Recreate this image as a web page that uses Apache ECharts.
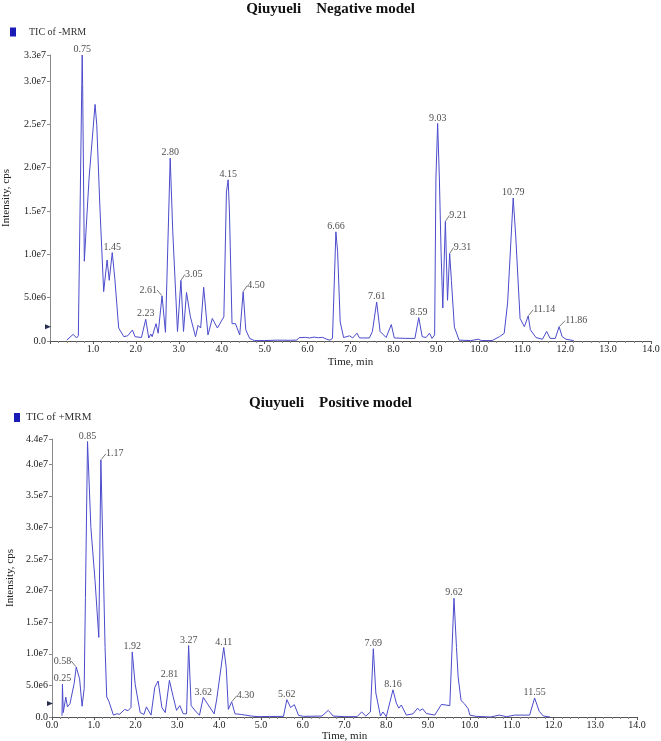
<!DOCTYPE html>
<html>
<head>
<meta charset="utf-8">
<title>Qiuyueli TIC</title>
<script src="https://cdn.jsdelivr.net/npm/echarts@6/dist/echarts.min.js"></script>
<style>
  html, body { margin: 0; padding: 0; background: #fff; }
  #chart { width: 661px; height: 741px; }
</style>
</head>
<body>
<div id="chart"></div>
<script>
// TIC traces: time in min, intensity in units of 1e6 cps
const negTime = [0.39, 0.54, 0.62, 0.66, 0.75, 0.76, 0.80, 0.83, 0.91, 1.05, 1.09, 1.16, 1.25, 1.33, 1.38, 1.45, 1.51, 1.60, 1.72, 1.81,
  1.92, 1.98, 2.13, 2.23, 2.30, 2.35, 2.38, 2.47, 2.52, 2.61, 2.69, 2.80, 2.86, 2.97, 3.05, 3.11, 3.18, 3.27, 3.39, 3.45,
  3.51, 3.58, 3.68, 3.78, 3.90, 4.05, 4.11, 4.15, 4.18, 4.24, 4.32, 4.42, 4.50, 4.56, 4.65, 4.76, 5.00, 5.30, 5.60, 5.75,
  5.80, 5.95, 6.05, 6.15, 6.25, 6.35, 6.45, 6.52, 6.58, 6.66, 6.70, 6.76, 6.84, 6.98, 7.05, 7.15, 7.21, 7.44, 7.51, 7.61,
  7.69, 7.83, 7.95, 8.02, 8.29, 8.50, 8.59, 8.67, 8.76, 8.84, 8.90, 8.96, 8.99, 9.03, 9.07, 9.11, 9.15, 9.21, 9.26, 9.31,
  9.35, 9.42, 9.53, 9.80, 9.98, 10.05, 10.30, 10.47, 10.58, 10.66, 10.79, 10.85, 10.95, 11.05, 11.14, 11.19, 11.32, 11.47, 11.57, 11.65,
  11.77, 11.86, 11.93, 12.02, 12.20];
const negIntensity = [0.1, 0.77, 0.35, 0.6, 33.0, 29.6, 9.2, 11.9, 18.8, 27.3, 24.9, 15.7, 5.7, 9.35, 7.0, 10.2, 7.2, 1.5, 0.5, 0.6,
  1.27, 0.5, 0.4, 2.5, 0.35, 0.8, 0.5, 2.0, 0.9, 5.2, 1.0, 21.1, 12.6, 1.1, 7.0, 1.1, 5.6, 2.8, 0.5, 1.8,
  1.5, 6.2, 0.7, 2.6, 1.5, 2.8, 17.2, 18.6, 14.9, 2.0, 2.0, 0.7, 5.7, 1.3, 0.3, 0.05, 0.05, 0.1, 0.08, 0.1,
  0.38, 0.42, 0.35, 0.45, 0.38, 0.42, 0.2, 0.1, 0.3, 12.6, 10.3, 2.2, 0.4, 0.6, 0.35, 0.9, 0.35, 0.35, 1.1, 4.5,
  1.1, 0.4, 1.9, 0.35, 0.3, 0.3, 2.7, 0.5, 0.4, 0.9, 0.3, 0.7, 18.8, 25.1, 18.8, 10.2, 3.8, 13.8, 4.7, 10.1,
  7.0, 1.6, 0.1, 0.05, 0.2, 0.05, 0.05, 0.5, 0.88, 4.4, 16.5, 12.0, 2.6, 1.65, 2.9, 1.3, 0.4, 0.2, 1.1, 0.3,
  0.3, 1.65, 0.5, 0.2, 0.05];
const negPeakTimes = [0.75, 1.45, 2.23, 2.61, 2.80, 3.05, 4.15, 4.50, 6.66, 7.61, 8.59, 9.03, 9.21, 9.31, 10.79, 11.14, 11.86];
const negPeakIntensity = [33.0, 10.2, 2.5, 5.2, 21.1, 7.0, 18.6, 5.7, 12.6, 4.5, 2.7, 25.1, 13.8, 10.1, 16.5, 2.9, 1.65];

const posTime = [0.24, 0.25, 0.27, 0.33, 0.37, 0.43, 0.47, 0.53, 0.58, 0.66, 0.72, 0.77, 0.80, 0.85, 0.93, 1.03, 1.12, 1.17, 1.20, 1.27,
  1.31, 1.36, 1.47, 1.55, 1.62, 1.74, 1.82, 1.89, 1.92, 1.99, 2.11, 2.20, 2.26, 2.37, 2.46, 2.54, 2.63, 2.71, 2.81, 2.90,
  2.98, 3.06, 3.14, 3.22, 3.27, 3.33, 3.45, 3.53, 3.62, 3.74, 3.88, 3.94, 3.98, 4.11, 4.17, 4.22, 4.30, 4.38, 4.53, 4.77,
  4.93, 5.20, 5.54, 5.56, 5.62, 5.71, 5.80, 5.90, 6.02, 6.46, 6.61, 6.73, 7.01, 7.30, 7.41, 7.51, 7.62, 7.69, 7.75, 7.86,
  7.92, 8.00, 8.16, 8.24, 8.30, 8.36, 8.48, 8.64, 8.75, 8.80, 8.87, 8.96, 9.16, 9.32, 9.52, 9.56, 9.62, 9.68, 9.72, 9.79,
  9.87, 9.96, 10.00, 10.15, 10.50, 10.70, 10.88, 11.07, 11.43, 11.55, 11.66, 11.76, 11.92];
const posIntensity = [0.2, 5.2, 0.7, 3.15, 1.6, 2.1, 1.9, 5.3, 7.9, 6.05, 1.7, 4.5, 18.9, 43.6, 30.0, 21.6, 12.6, 40.7, 32.0, 11.0,
  3.15, 2.5, 0.3, 0.5, 0.45, 1.2, 1.0, 1.5, 10.3, 5.2, 0.7, 0.4, 1.6, 0.3, 4.7, 5.7, 1.5, 0.7, 5.8, 3.2,
  1.05, 1.8, 0.5, 0.5, 11.3, 1.8, 0.8, 0.3, 3.1, 1.9, 0.5, 2.7, 2.6, 11.0, 7.8, 1.2, 2.4, 0.5, 0.4, 0.15,
  0.05, 0.08, 0.1, 0.2, 2.75, 1.5, 1.95, 0.25, 0.1, 0.15, 1.05, 0.15, 0.05, 0.05, 0.8, 0.15, 0.8, 10.8, 3.8, 0.15,
  0.8, 0.05, 4.3, 2.2, 1.4, 1.9, 0.3, 0.5, 1.4, 1.0, 1.3, 0.55, 0.3, 2.0, 1.8, 1.8, 18.8, 11.0, 6.3, 2.6,
  2.1, 1.3, 0.3, 0.1, 0.0, 0.3, 0.05, 0.3, 0.3, 3.0, 0.9, 0.15, 0.0];
const posPeakTimes = [0.25, 0.58, 0.85, 1.17, 1.92, 2.81, 3.27, 3.62, 4.11, 4.30, 5.62, 7.69, 8.16, 9.62, 11.55];
const posPeakIntensity = [5.2, 7.9, 43.6, 40.7, 10.3, 5.8, 11.3, 3.1, 11.0, 2.4, 2.75, 10.8, 4.3, 18.8, 3.0];

const negMax = 3.3e7;
const posMax = 4.4e7;
const UNIT = 1e6;

// labels sitting beside their peak with a short leader; value = px gap, sign = side
const leaderGaps = {
  neg: { '2.61': -5, '3.05': 4, '4.50': 4, '9.21': 4, '9.31': 4, '11.14': 5, '11.86': 6 },
  pos: { '0.58': -5, '1.17': 5, '4.30': 5 }
};

const FONT = 'Liberation Serif';
const lineColor = '#4b4bcc';

function sciLabel(v) {
  if (v === 0) return '0.0';
  return v.toExponential(1).replace('+', '');
}

function pairs(xs, ys) {
  return xs.map((x, i) => [x, ys[i] * UNIT]);
}

function peakItems(times, vals, gaps) {
  return times.map((t, i) => {
    const txt = t.toFixed(2);
    const item = { value: [t, vals[i] * UNIT], name: txt };
    if (gaps[txt] !== undefined) item.labelLine = { show: true };
    return item;
  });
}

// move leader labels to the side of the peak and draw a tiny guide
function leaderLayout(gaps) {
  return function (p) {
    const gap = gaps[p.text];
    if (gap === undefined) return {};
    const cx = p.rect.x + p.rect.width / 2;
    const cy = p.rect.y + p.rect.height / 2;
    const s = gap > 0 ? 1 : -1;
    return {
      x: cx + gap,
      y: cy - 6,
      align: gap > 0 ? 'left' : 'right',
      verticalAlign: 'middle',
      labelLinePoints: [[cx + s * 0.5, cy - 1], [cx + gap - s * 0.5, cy - 3.5], [cx + gap, cy - 3.5]]
    };
  };
}

function xAxisOf(gridIndex, showMin, gap) {
  return {
    type: 'value', gridIndex: gridIndex, min: 0, max: 14, interval: 1,
    name: 'Time, min', nameLocation: 'middle', nameGap: gap,
    nameTextStyle: { fontFamily: FONT, fontSize: 11, color: '#222' },
    axisLine: { onZero: false, lineStyle: { color: '#555', width: 1 } },
    axisTick: { show: true, length: 3, lineStyle: { color: '#555' } },
    minorTick: { show: true, splitNumber: 5, length: 2, lineStyle: { color: '#888' } },
    splitLine: { show: false },
    axisLabel: {
      fontFamily: FONT, fontSize: 10, color: '#222', margin: 3, showMinLabel: showMin,
      formatter: v => v.toFixed(1)
    }
  };
}

function yAxisOf(gridIndex, max, gap) {
  return {
    type: 'value', gridIndex: gridIndex, min: 0, max: max, interval: 5e6,
    name: 'Intensity, cps', nameLocation: 'middle', nameGap: gap,
    nameTextStyle: { fontFamily: FONT, fontSize: 11, color: '#222' },
    axisLine: { show: true, lineStyle: { color: '#8a8a8a', width: 1 } },
    axisTick: { show: true, length: 3, lineStyle: { color: '#8a8a8a' } },
    splitLine: { show: false },
    axisLabel: {
      fontFamily: FONT, fontSize: 10, color: '#222', margin: 4,
      formatter: sciLabel
    }
  };
}

function traceSeries(name, idx, data, markVal) {
  return {
    name: name, type: 'line', xAxisIndex: idx, yAxisIndex: idx,
    data: data, showSymbol: false, symbol: 'none', silent: true,
    lineStyle: { color: lineColor, width: 1 },
    itemStyle: { color: lineColor },
    markPoint: {
      silent: true, symbol: 'triangle', symbolSize: [5, 6], symbolRotate: -90, symbolOffset: [-2, 0],
      itemStyle: { color: '#283050' }, label: { show: false },
      data: [{ coord: [0, markVal] }]
    }
  };
}

function peakSeries(idx, items, gaps) {
  return {
    type: 'scatter', xAxisIndex: idx, yAxisIndex: idx, silent: true,
    symbol: 'circle', symbolSize: 1, itemStyle: { color: 'rgba(0,0,0,0)' },
    data: items,
    label: {
      show: true, position: 'top', distance: 0,
      fontFamily: FONT, fontSize: 10, color: '#222',
      formatter: p => p.name
    },
    labelLine: { show: false, lineStyle: { color: '#555', width: 0.8 } },
    labelLayout: leaderLayout(gaps),
    z: 5
  };
}

const chart = echarts.init(document.getElementById('chart'), null, { renderer: 'canvas' });
chart.setOption({
  animation: false,
  backgroundColor: '#fff',
  title: [
    { text: 'Qiuyueli    Negative model', left: 'center', top: -3,
      textStyle: { fontFamily: FONT, fontSize: 15, fontWeight: 'bold', color: '#111' } },
    { text: 'Qiuyueli    Positive model', left: 'center', top: 391,
      textStyle: { fontFamily: FONT, fontSize: 15, fontWeight: 'bold', color: '#111' } }
  ],
  legend: [
    { data: [{ name: 'TIC of -MRM', itemStyle: { color: '#1a1ab4' } }], left: 5, top: 22, icon: 'rect',
      itemWidth: 6, itemHeight: 9, selectedMode: false,
      textStyle: { fontFamily: FONT, fontSize: 10, color: '#333', padding: [0, 0, 0, 8] } },
    { data: [{ name: 'TIC of +MRM', itemStyle: { color: '#1a1ab4' } }], left: 9, top: 407, icon: 'rect',
      itemWidth: 6, itemHeight: 9, selectedMode: false,
      textStyle: { fontFamily: FONT, fontSize: 11, color: '#333', padding: [0, 0, 0, 1] } }
  ],
  grid: [
    { left: 50, right: 10, top: 55, height: 286, outerBoundsMode: 'none', containLabel: false },
    { left: 52, right: 24, top: 439, height: 278, outerBoundsMode: 'none', containLabel: false }
  ],
  xAxis: [xAxisOf(0, false, 16), xAxisOf(1, true, 13)],
  yAxis: [yAxisOf(0, negMax, 38), yAxisOf(1, posMax, 36)],
  series: [
    traceSeries('TIC of -MRM', 0, pairs(negTime, negIntensity), 1.65e6),
    peakSeries(0, peakItems(negPeakTimes, negPeakIntensity, leaderGaps.neg), leaderGaps.neg),
    traceSeries('TIC of +MRM', 1, pairs(posTime, posIntensity), 2.15e6),
    peakSeries(1, peakItems(posPeakTimes, posPeakIntensity, leaderGaps.pos), leaderGaps.pos)
  ]
});
</script>
</body>
</html>
